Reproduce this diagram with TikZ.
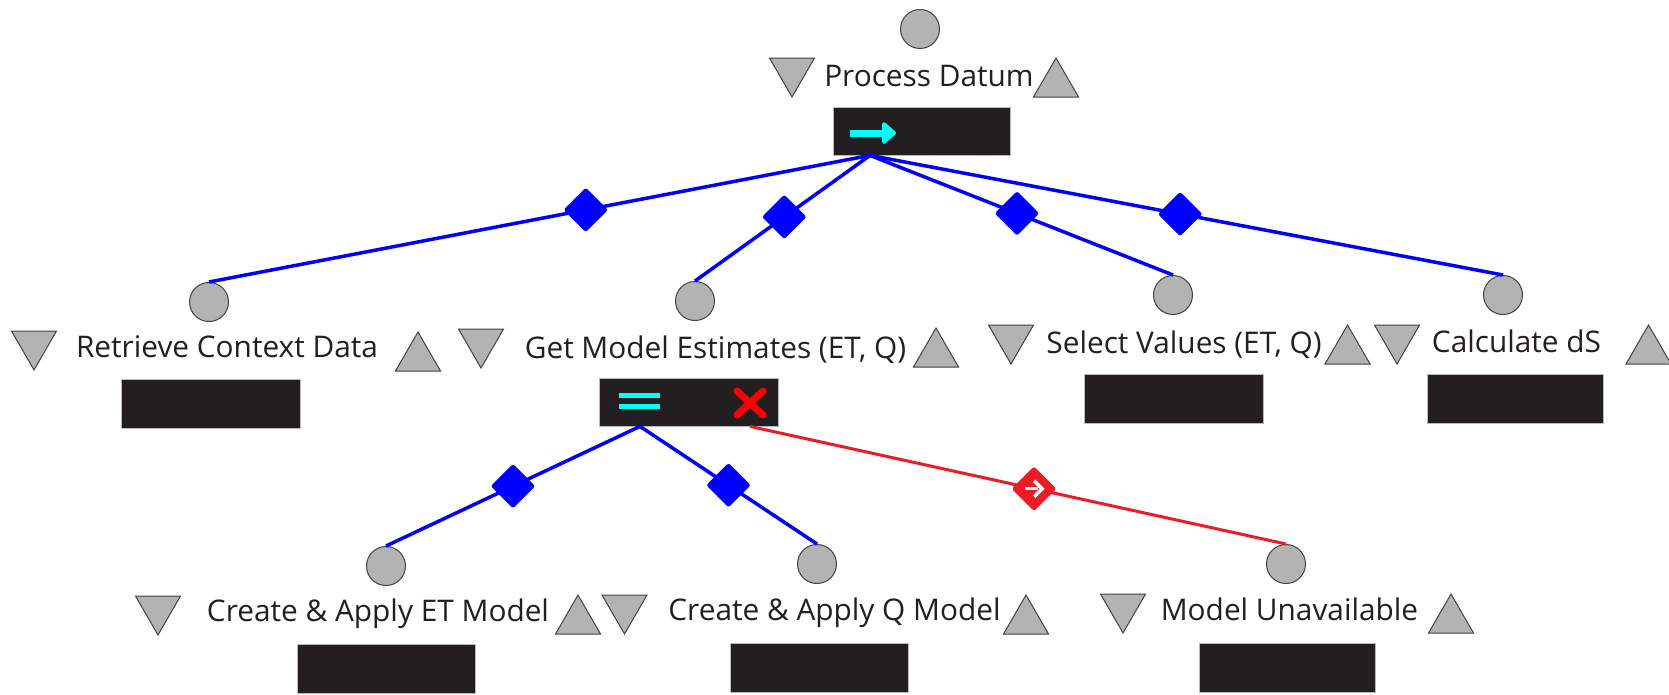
\documentclass[tikz,border=0pt]{standalone}
\usepackage{fontspec}
\setmainfont{Open Sans}
\usetikzlibrary{shapes.geometric,arrows.meta}

\definecolor{ink}{HTML}{231F20}
\definecolor{token}{HTML}{B3B3B3}
\definecolor{edgeblue}{HTML}{0000FF}
\definecolor{edgered}{HTML}{ED1C24}
\definecolor{failred}{HTML}{FF0000}
\definecolor{marker}{HTML}{00FFFF}

\tikzset{
  port/.style={circle, fill=token, draw=ink!85, line width=1pt,
    minimum size=39pt, inner sep=0pt},
  uptri/.style={regular polygon, regular polygon sides=3, fill=token,
    draw=ink!85, line width=1pt, minimum size=52pt, inner sep=0pt},
  downtri/.style={uptri, shape border rotate=180},
  tasktext/.style={anchor=base, text=ink, inner sep=0pt,
    font=\fontsize{29.8}{35}\selectfont},
  taskbox/.style={fill=ink, draw=gray!55, line width=0.8pt,
    minimum width=178pt, minimum height=48pt, inner sep=0pt},
  link/.style={edgeblue, line width=3.5pt},
  faillink/.style={edgered, line width=3pt},
  gate/.style={diamond, fill=edgeblue, minimum width=46pt,
    minimum height=46pt, inner sep=0pt, rounded corners=2.5pt},
  failgate/.style={gate, fill=edgered},
}

\begin{document}
\begin{tikzpicture}[x=1pt, y=-1pt]
\useasboundingbox (0,0) rectangle (1669,694);
\clip (0,0) rectangle (1669,694);

% ---- root task: Process Datum ----
\node[port] (pdC) at (920,29) {};
\node[tasktext] (pdT) at (929,86) {Process Datum};
\node[downtri] (pdD) at (792,71) {};
\node[uptri] (pdU) at (1056,84) {};
\node[taskbox, minimum width=177pt] (pdBox) at (921.5,131) {};
\coordinate (pdSeq) at (870,133);
\draw[marker, line width=7pt, -{Triangle[length=15pt, width=25pt, round]}]
  ([xshift=-20pt]pdSeq) -- ([xshift=26pt]pdSeq);

% ---- first level ----
\node[port] (rcC) at (209,302) {};
\node[tasktext] (rcT) at (227,357) {Retrieve Context Data};
\node[downtri] (rcD) at (34,344) {};
\node[uptri] (rcU) at (418,358) {};
\node[taskbox, minimum width=179pt, minimum height=49pt] (rcBox) at (210.5,403.5) {};

\node[port] (gmC) at (695,301) {};
\node[tasktext] (gmT) at (715.5,358) {Get Model Estimates (ET, Q)};
\node[downtri] (gmD) at (481,342) {};
\node[uptri] (gmU) at (936,354) {};
\node[taskbox, minimum width=179pt] (gmBox) at (688.5,402) {};
\coordinate (gmSel) at (640,400);
\coordinate (gmFail) at (750,403);
\fill[marker] (619,392.5) rectangle (660,397.5);
\fill[marker] (619,403.5) rectangle (660,408.5);
\draw[failred, line width=7pt, line cap=round]
  ([xshift=-13pt, yshift=12pt]gmFail) -- ([xshift=13pt, yshift=-12pt]gmFail)
  ([xshift=13pt, yshift=12pt]gmFail) -- ([xshift=-13pt, yshift=-12pt]gmFail);

\node[port] (svC) at (1173,295) {};
\node[tasktext] (svT) at (1184,353) {Select Values (ET, Q)};
\node[downtri] (svD) at (1011,338) {};
\node[uptri] (svU) at (1347.5,351) {};
\node[taskbox, minimum width=179pt, minimum height=49pt] (svBox) at (1173.5,398.5) {};

\node[port] (cdC) at (1503,295) {};
\node[tasktext] (cdT) at (1516.5,352) {Calculate dS};
\node[downtri] (cdD) at (1397,338) {};
\node[uptri] (cdU) at (1648.5,351) {};
\node[taskbox, minimum width=176pt, minimum height=49pt] (cdBox) at (1515,398.5) {};

% ---- second level ----
\node[port] (etC) at (386,566) {};
\node[tasktext] (etT) at (378,621) {Create \& Apply ET Model};
\node[downtri] (etD) at (158,609) {};
\node[uptri] (etU) at (578,621) {};
\node[taskbox, minimum height=49pt] (etBox) at (386,668.5) {};

\node[port] (qmC) at (817,564) {};
\node[tasktext] (qmT) at (834.5,620) {Create \& Apply Q Model};
\node[downtri] (qmD) at (624.5,608) {};
\node[uptri] (qmU) at (1026,621) {};
\node[taskbox, minimum height=49pt] (qmBox) at (819,667.5) {};

\node[port] (muC) at (1286,564) {};
\node[tasktext] (muT) at (1289.5,620) {Model Unavailable};
\node[downtri] (muD) at (1123,607) {};
\node[uptri] (muU) at (1451,620) {};
\node[taskbox, minimum width=176pt, minimum height=49pt] (muBox) at (1287,667.5) {};

% ---- connectors ----
\coordinate (pdOut) at (pdSeq |- pdBox.south);
\draw[link] (pdOut) -- node[gate, pos=0.43] (g1) {} (rcC.north);
\draw[link] (pdOut) -- node[gate, pos=0.49] (g2) {} (gmC.north);
\draw[link] (pdOut) -- node[gate, pos=0.485] (g3) {} (svC.north);
\draw[link] (pdOut) -- node[gate, pos=0.49] (g4) {} (cdC.north);

\coordinate (gmOut) at (gmSel |- gmBox.south);
\coordinate (gmFailOut) at (gmFail |- gmBox.south);
\draw[link] (gmOut) -- node[gate, pos=0.5] (g5) {} (etC.north);
\draw[link] (gmOut) -- node[gate, pos=0.5] (g6) {} (qmC.north);
\draw[faillink] (gmFailOut) -- node[failgate, pos=0.53] (g7) {} (muC.north);

% white arrow glyph inside the failure gate
\draw[white, line width=3.5pt] ([xshift=-9pt]g7.center) -- ([xshift=4pt]g7.center);
\draw[white, line width=3.5pt, line join=miter]
  ([xshift=0pt, yshift=8pt]g7.center) -- ([xshift=8pt]g7.center)
  -- ([xshift=0pt, yshift=-8pt]g7.center);
\end{tikzpicture}
\end{document}
